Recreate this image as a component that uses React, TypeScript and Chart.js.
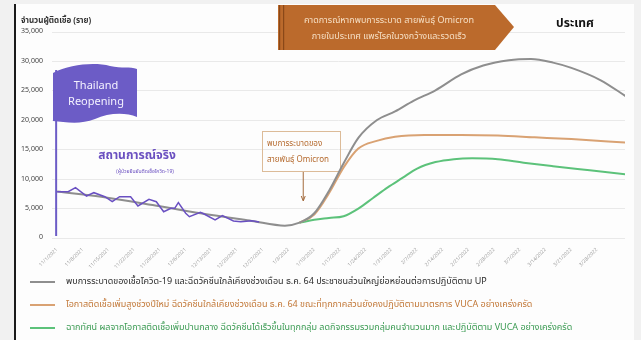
import React, { useEffect, useRef } from "react";
import { Chart, registerables } from "chart.js";

Chart.register(...registerables);

const FONT = '"Noto Sans Thai", "Noto Sans", "DejaVu Sans", sans-serif';

// Weekly date ticks (day 0 = 1 Nov 2021)
const tickLabels = [
  "11/1/2021", "11/8/2021", "11/15/2021", "11/22/2021", "11/29/2021", "12/6/2021",
  "12/13/2021", "12/20/2021", "12/27/2021", "1/3/2022", "1/10/2022", "1/17/2022",
  "1/24/2022", "1/31/2022", "2/7/2022", "2/14/2022", "2/21/2022", "2/28/2022",
  "3/7/2022", "3/14/2022", "3/21/2022", "3/28/2022",
];
const tickStepDays = 7;

// Reported cases (สถานการณ์จริง)
const actualDays = [0, 3, 5, 8, 10, 13, 15, 17, 20, 22, 25, 27, 29, 31, 32, 33, 35, 36, 39, 40, 43, 45, 48, 50, 53, 55];
const actualCases = [7870, 7870, 8550, 7130, 7700, 7020, 6170, 7020, 7020, 5440, 6570, 6170, 4470, 5040, 5040, 6000, 4200, 3620, 4360, 4080, 3060, 3790, 2890, 2770, 2940, 2720];

// Scenario 1 (grey)
const upDays = [0, 12, 26, 39, 53, 62, 66, 70, 74, 78, 82, 87, 92, 97, 103, 110, 116, 123, 129, 135, 140, 148, 155];
const upCases = [7900, 7000, 5600, 4200, 2900, 2100, 2600, 4200, 8000, 12700, 17000, 20000, 21500, 23300, 25100, 27800, 29300, 30200, 30400, 29800, 28900, 26800, 24000];

// Scenario 2 (orange)
const newYearDays = [66, 70, 74, 78, 82, 87, 92, 100, 110, 120, 130, 140, 155];
const newYearCases = [2600, 4000, 7600, 12000, 15200, 16500, 17200, 17500, 17500, 17400, 17100, 16800, 16200];

// Scenario 3 (green)
const moderateDays = [66, 70, 74, 78, 82, 86, 90, 94, 98, 103, 108, 113, 120, 127, 135, 145, 155];
const moderateCases = [2600, 3100, 3400, 3700, 5000, 6800, 8600, 10200, 11800, 12900, 13400, 13550, 13400, 12800, 12200, 11500, 10800];

const seriesLabels = [
  "พบการระบาดของเชื้อโควิด-19 และฉีดวัคซีนใกล้เคียงช่วงเดือน ธ.ค. 64 ประชาชนส่วนใหญ่ย่อหย่อนต่อการปฏิบัติตาม UP",
  "โอกาสติดเชื้อเพิ่มสูงช่วงปีใหม่ ฉีดวัคซีนใกล้เคียงช่วงเดือน ธ.ค. 64 ขณะที่ทุกภาคส่วนยังคงปฏิบัติตามมาตรการ VUCA อย่างเคร่งครัด",
  "ฉากทัศน์ ผลจากโอกาสติดเชื้อเพิ่มปานกลาง ฉีดวัคซีนได้เร็วขึ้นในทุกกลุ่ม ลดกิจกรรมรวมกลุ่มคนจำนวนมาก และปฏิบัติตาม VUCA อย่างเคร่งครัด",
];
const seriesColors = ["#8e8e8e", "#d9a273", "#5cc27a"];
const legendTextColors = ["#2b2b2b", "#c27838", "#3a9a52"];
const actualColor = "#6a50c2";

const omicronDay = 67;

const toPoints = (days: number[], values: number[]) => days.map((d, i) => ({ x: d, y: values[i] }));

const decorations = {
  id: "decorations",
  beforeDraw(chart: any) {
    const { ctx, width, height } = chart;
    ctx.save();
    ctx.fillStyle = "#f1f1f1";
    ctx.fillRect(0, 0, width, height);
    ctx.fillStyle = "#fdfdfd";
    ctx.fillRect(16, 4, 618, height - 4);
    ctx.fillStyle = "#1a1a1a";
    ctx.fillRect(14, 4, 2, height - 4);
    ctx.restore();
  },
  beforeDatasetsDraw(chart: any) {
    const { ctx, scales } = chart;
    const xs = scales.x;
    const ys = scales.y;
    ctx.save();

    // axis title
    ctx.fillStyle = "#333";
    ctx.font = `bold 8px ${FONT}`;
    ctx.textAlign = "left";
    ctx.textBaseline = "middle";
    ctx.fillText("จำนวนผู้ติดเชื้อ (ราย)", 21, 21);

    // country label
    ctx.fillStyle = "#111";
    ctx.font = `bold 12px ${FONT}`;
    ctx.textAlign = "center";
    ctx.fillText("ประเทศ", 575, 25);

    // forecast banner
    ctx.fillStyle = "#bb6a2c";
    ctx.beginPath();
    ctx.moveTo(278, 5);
    ctx.lineTo(495, 5);
    ctx.lineTo(514, 27);
    ctx.lineTo(495, 50);
    ctx.lineTo(278, 50);
    ctx.closePath();
    ctx.fill();
    ctx.fillStyle = "#8a4818";
    ctx.fillRect(279, 5, 1.2, 45);
    ctx.fillRect(283, 5, 1.2, 45);
    ctx.fillStyle = "#f6dfc4";
    ctx.font = `9px ${FONT}`;
    ctx.textAlign = "center";
    ctx.fillText("คาดการณ์หากพบการระบาด สายพันธุ์ Omicron", 389, 21);
    ctx.fillText("ภายในประเทศ แพร่โรคในวงกว้างและรวดเร็ว", 389, 37);

    // reopening flag
    const poleX = xs.getPixelForValue(0) - 1;
    ctx.strokeStyle = "#6c5cc6";
    ctx.lineWidth = 2;
    ctx.beginPath();
    ctx.moveTo(poleX, 70);
    ctx.lineTo(poleX, ys.getPixelForValue(0) - 2);
    ctx.stroke();
    ctx.fillStyle = "#6c5cc6";
    ctx.beginPath();
    ctx.moveTo(53, 73);
    ctx.bezierCurveTo(70, 64, 95, 62, 110, 66);
    ctx.bezierCurveTo(122, 69, 130, 66, 137, 69);
    ctx.lineTo(137, 117);
    ctx.bezierCurveTo(125, 112, 108, 113, 95, 119);
    ctx.bezierCurveTo(80, 125, 65, 122, 53, 121);
    ctx.closePath();
    ctx.fill();
    ctx.fillStyle = "#f4f2ff";
    ctx.font = `11px ${FONT}`;
    ctx.fillText("Thailand", 96, 87);
    ctx.fillText("Reopening", 96, 103);

    // actual-situation label
    ctx.fillStyle = "#6a4fc0";
    ctx.font = `bold 12px ${FONT}`;
    ctx.fillText("สถานการณ์จริง", 137, 157);
    ctx.font = `5px ${FONT}`;
    ctx.fillText("(ผู้ป่วยยืนยันติดเชื้อโควิด-19)", 145, 172);

    // omicron note
    const ox = xs.getPixelForValue(omicronDay);
    ctx.strokeStyle = "#dcbb98";
    ctx.lineWidth = 1;
    ctx.strokeRect(262.5, 131.5, 78, 40);
    ctx.fillStyle = "#b56a2e";
    ctx.font = `8px ${FONT}`;
    ctx.textAlign = "left";
    ctx.fillText("พบการระบาดของ", 267, 144);
    ctx.fillText("สายพันธุ์ Omicron", 267, 160);
    ctx.strokeStyle = "#a36a3c";
    ctx.beginPath();
    ctx.moveTo(ox, 172);
    ctx.lineTo(ox, 200);
    ctx.stroke();
    ctx.beginPath();
    ctx.moveTo(ox - 2, 196);
    ctx.lineTo(ox, 201);
    ctx.lineTo(ox + 2, 196);
    ctx.stroke();
    ctx.restore();
  },
  afterDraw(chart: any) {
    const { ctx } = chart;
    const rows = [282, 305, 328];
    ctx.save();
    ctx.font = `9px ${FONT}`;
    ctx.textAlign = "left";
    ctx.textBaseline = "middle";
    chart.data.datasets.forEach((ds: any) => {
      if (ds.legendRow === undefined) return;
      const y = rows[ds.legendRow];
      ctx.strokeStyle = ds.borderColor;
      ctx.lineWidth = 2;
      ctx.beginPath();
      ctx.moveTo(30, y);
      ctx.lineTo(55, y);
      ctx.stroke();
      ctx.fillStyle = legendTextColors[ds.legendRow];
      ctx.fillText(ds.label, 66, y);
    });
    ctx.restore();
  },
};

export default function App() {
  const canvasRef = useRef<HTMLCanvasElement | null>(null);

  useEffect(() => {
    document.body.style.margin = "0";
    const canvas = canvasRef.current;
    if (!canvas) return;
    const line = (label: string, data: any[], color: string, width: number, row?: number) => ({
      label,
      data,
      borderColor: color,
      backgroundColor: color,
      borderWidth: width,
      pointRadius: 0,
      fill: false,
      cubicInterpolationMode: "monotone" as const,
      legendRow: row,
    });
    const chart = new Chart(canvas, {
      type: "line",
      data: {
        datasets: [
          { ...line("สถานการณ์จริง", toPoints(actualDays, actualCases), actualColor, 1.5), cubicInterpolationMode: "default", tension: 0 },
          line(seriesLabels[0], toPoints(upDays, upCases), seriesColors[0], 2, 0),
          line(seriesLabels[1], toPoints(newYearDays, newYearCases), seriesColors[1], 2, 1),
          line(seriesLabels[2], toPoints(moderateDays, moderateCases), seriesColors[2], 2, 2),
        ] as any,
      },
      options: {
        animation: false,
        responsive: false,
        maintainAspectRatio: false,
        layout: { padding: { top: 32, right: 16, left: 0, bottom: 0 } },
        plugins: { legend: { display: false }, tooltip: { enabled: false } },
        scales: {
          x: {
            type: "linear",
            min: -1.4,
            max: 154.6,
            grid: { display: false },
            border: { display: false },
            afterBuildTicks: (scale: any) => {
              scale.ticks = tickLabels.map((_, i) => ({ value: i * tickStepDays }));
            },
            afterFit: (scale: any) => {
              scale.height = 102;
            },
            ticks: {
              autoSkip: false,
              minRotation: 45,
              maxRotation: 45,
              padding: 1,
              color: "#9a9a9a",
              font: { size: 5, family: FONT },
              callback: (_v: any, i: number) => tickLabels[i],
            },
          },
          y: {
            min: 0,
            max: 35000,
            grid: { color: "#e9e9e9", drawTicks: false },
            border: { display: false },
            afterFit: (scale: any) => {
              scale.width = 52;
            },
            ticks: {
              stepSize: 5000,
              padding: 9,
              color: "#444",
              font: { size: 7, family: FONT },
              callback: (v: any) => Number(v).toLocaleString("en-US"),
            },
          },
        },
      },
      plugins: [decorations],
    });
    return () => chart.destroy();
  }, []);

  return (
    <div style={{ width: 641, height: 340 }}>
      <canvas ref={canvasRef} width={641} height={340} style={{ display: "block" }} />
    </div>
  );
}
